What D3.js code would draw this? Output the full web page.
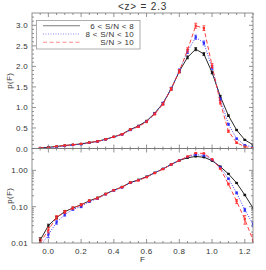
<!DOCTYPE html>
<html>
<head>
<meta charset="utf-8">
<script src="https://cdn.jsdelivr.net/npm/d3@7"></script>
<style>
  body { margin: 0; background: #fff; }
  text { font-family: "Liberation Sans", "DejaVu Sans", sans-serif; fill: #333; letter-spacing: 0.3px; }
</style>
</head>
<body>
<svg id="chart" width="266" height="270"></svg>
<script>
const width = 266;
const height = 270;

// flux bins
const fluxBins = [-0.05, 0.00, 0.05, 0.10, 0.15, 0.20, 0.25, 0.30, 0.35, 0.40, 0.45, 0.50, 0.55,
  0.60, 0.65, 0.70, 0.75, 0.80, 0.85, 0.90, 0.95, 1.00, 1.05, 1.10, 1.15, 1.20, 1.25];

// 6 < S/N < 8
const pLow = [0.012, 0.030, 0.050, 0.073, 0.092, 0.113, 0.145, 0.175, 0.225, 0.285, 0.35, 0.46, 0.55,
  0.67, 0.86, 1.10, 1.45, 1.88, 2.22, 2.42, 2.30, 1.85, 1.27, 0.80, 0.45, 0.21, 0.092];
const errLow = [0.002, 0.003, 0.004, 0.005, 0.005, 0.006, 0.006, 0.007, 0.008, 0.009, 0.010, 0.012, 0.013,
  0.015, 0.018, 0.022, 0.026, 0.030, 0.035, 0.038, 0.036, 0.032, 0.026, 0.020, 0.014, 0.009, 0.006];

// 8 < S/N < 10
const pMid = [0.008, 0.017, 0.037, 0.060, 0.085, 0.100, 0.138, 0.168, 0.22, 0.28, 0.34, 0.45, 0.54,
  0.66, 0.85, 1.10, 1.46, 1.90, 2.36, 2.71, 2.57, 1.97, 1.20, 0.59, 0.24, 0.082, 0.033];
const errMid = [0.002, 0.003, 0.004, 0.005, 0.006, 0.006, 0.007, 0.008, 0.009, 0.010, 0.012, 0.014, 0.015,
  0.018, 0.022, 0.027, 0.032, 0.038, 0.045, 0.050, 0.048, 0.042, 0.032, 0.022, 0.014, 0.008, 0.005];

// S/N > 10
const pHigh = [0.010, 0.023, 0.051, 0.072, 0.092, 0.112, 0.145, 0.172, 0.222, 0.285, 0.345, 0.46, 0.53,
  0.65, 0.84, 1.08, 1.45, 1.88, 2.40, 2.99, 2.93, 2.02, 1.12, 0.42, 0.14, 0.045, 0.012];
const errHigh = [0.003, 0.004, 0.006, 0.007, 0.007, 0.008, 0.009, 0.010, 0.011, 0.012, 0.014, 0.016, 0.018,
  0.021, 0.025, 0.030, 0.036, 0.044, 0.052, 0.060, 0.058, 0.050, 0.038, 0.026, 0.018, 0.012, 0.005];

const seriesNames = ["6 < S/N < 8", "8 < S/N < 10", "S/N > 10"];
const linTicks = [0.0, 0.5, 1.0, 1.5, 2.0, 2.5, 3.0];
const logTicks = [0.01, 0.1, 1];
const xTicks = [0.0, 0.2, 0.4, 0.6, 0.8, 1.0, 1.2];

const series = [
  { name: seriesNames[0], p: pLow, err: errLow, color: "#111", dash: null },
  { name: seriesNames[1], p: pMid, err: errMid, color: "#2b2bff", dash: "1,1.5" },
  { name: seriesNames[2], p: pHigh, err: errHigh, color: "#ff2a2a", dash: "4,2.5" }
];

const left = 32, right = 253;
const top1 = 13, bot1 = 148.5, bot2 = 243;

const x = d3.scaleLinear().domain([-0.1, 1.25]).range([left, right]);
const yLin = d3.scaleLinear().domain([0, 3.3]).range([bot1, top1]);
const yLog = d3.scaleLog().domain([0.01, 4]).range([bot2, bot1]);

const svg = d3.select("#chart");

svg.append("defs").selectAll("clipPath")
  .data([["c1", top1, bot1], ["c2", bot1, bot2]])
  .join("clipPath").attr("id", d => d[0])
  .append("rect").attr("x", left).attr("y", d => d[1])
  .attr("width", right - left).attr("height", d => d[2] - d[1]);

function drawPanel(y, clip) {
  const g = svg.append("g").attr("clip-path", `url(#${clip})`);
  series.forEach(s => {
    const pts = fluxBins.map((f, i) => ({ f, p: s.p[i], e: s.err[i] }));
    const line = d3.line().x(d => x(d.f)).y(d => y(d.p));
    g.append("path").datum(pts)
      .attr("d", line)
      .attr("fill", "none")
      .attr("stroke", s.color)
      .attr("stroke-width", 0.9)
      .attr("stroke-dasharray", s.dash);

    const lo = d => y(Math.max(d.p - d.e, 0.001));
    const hi = d => y(d.p + d.e);
    const eb = g.append("g").attr("stroke", s.color).attr("stroke-width", 0.8);
    eb.selectAll("line.v").data(pts).join("line").attr("class", "v")
      .attr("x1", d => x(d.f)).attr("x2", d => x(d.f))
      .attr("y1", lo).attr("y2", hi);
    eb.selectAll("line.t").data(pts).join("line").attr("class", "t")
      .attr("x1", d => x(d.f) - 1.4).attr("x2", d => x(d.f) + 1.4)
      .attr("y1", hi).attr("y2", hi);
    eb.selectAll("line.b").data(pts).join("line").attr("class", "b")
      .attr("x1", d => x(d.f) - 1.4).attr("x2", d => x(d.f) + 1.4)
      .attr("y1", lo).attr("y2", lo);

    g.append("g").selectAll("rect").data(pts).join("rect")
      .attr("x", d => x(d.f) - 1.1).attr("y", d => y(d.p) - 1.1)
      .attr("width", 2.2).attr("height", 2.2)
      .attr("fill", s.color);
  });
}

drawPanel(yLin, "c1");
drawPanel(yLog, "c2");

// frames and ticks
const frame = svg.append("g").attr("stroke", "#777").attr("fill", "none").attr("stroke-width", 0.8);
frame.append("rect").attr("x", left).attr("y", top1).attr("width", right - left).attr("height", bot1 - top1);
frame.append("rect").attr("x", left).attr("y", bot1).attr("width", right - left).attr("height", bot2 - bot1);

function xTickMarks(yPos, dir) {
  const minor = d3.range(-0.05, 1.251, 0.05);
  minor.forEach(v => {
    const major = Math.abs(v * 5 - Math.round(v * 5)) < 1e-6;
    const len = major ? 4 : 2;
    frame.append("line").attr("x1", x(v)).attr("x2", x(v))
      .attr("y1", yPos).attr("y2", yPos + dir * len);
  });
}
xTickMarks(top1, 1);
xTickMarks(bot1, -1);
xTickMarks(bot1, 1);
xTickMarks(bot2, -1);

function yTickMarks(scale, values, majorTest) {
  values.forEach(v => {
    const len = majorTest(v) ? 4 : 2;
    const yy = scale(v);
    frame.append("line").attr("x1", left).attr("x2", left + len).attr("y1", yy).attr("y2", yy);
    frame.append("line").attr("x1", right).attr("x2", right - len).attr("y1", yy).attr("y2", yy);
  });
}
yTickMarks(yLin, d3.range(0.1, 3.29, 0.1), v => Math.abs(v * 2 - Math.round(v * 2)) < 1e-6);
const logMinor = [];
[0.01, 0.1, 1].forEach(dec => { for (let k = 1; k <= 9; k++) if (dec * k <= 4 && dec * k > 0.01) logMinor.push(dec * k); });
yTickMarks(yLog, logMinor, v => logTicks.some(t => Math.abs(t - v) < 1e-9));

// tick labels
svg.append("g").selectAll("text").data(linTicks).join("text")
  .attr("x", left - 4).attr("y", d => yLin(d) + 3)
  .attr("text-anchor", "end").attr("font-size", 8)
  .text(d => d.toFixed(1));
svg.append("g").selectAll("text").data(logTicks).join("text")
  .attr("x", left - 4).attr("y", d => yLog(d) + 3)
  .attr("text-anchor", "end").attr("font-size", 8)
  .text(d => d.toFixed(2));
svg.append("g").selectAll("text").data(xTicks).join("text")
  .attr("x", d => x(d)).attr("y", bot2 + 11)
  .attr("text-anchor", "middle").attr("font-size", 8)
  .text(d => d.toFixed(1));

// axis titles
svg.append("text").attr("x", (left + right) / 2).attr("y", 262)
  .attr("text-anchor", "middle").attr("font-size", 8).text("F");
[(top1 + bot1) / 2, (bot1 + bot2) / 2].forEach(cy => {
  svg.append("text").attr("transform", `translate(12,${cy}) rotate(-90)`)
    .attr("text-anchor", "middle").attr("font-size", 8).text("p(F)");
});
svg.append("text").attr("x", (left + right) / 2).attr("y", 9.5)
  .attr("text-anchor", "middle").attr("font-size", 10)
  .style("letter-spacing", "0.8px").text("<z> = 2.3");

// legend
const lg = svg.append("g");
lg.append("rect").attr("x", 36.5).attr("y", 20.5).attr("width", 103.5).attr("height", 28.5)
  .attr("fill", "#fff").attr("stroke", "#999").attr("stroke-width", 0.8);
series.forEach((s, i) => {
  const yy = 25.7 + i * 8.3;
  lg.append("line").attr("x1", 43).attr("x2", 80).attr("y1", yy).attr("y2", yy)
    .attr("stroke", s.color).attr("stroke-width", 1.1).attr("stroke-opacity", 0.55)
    .attr("stroke-dasharray", s.dash);
  lg.append("text").attr("x", 134).attr("y", yy + 2.8)
    .attr("text-anchor", "end").attr("font-size", 8).text(s.name);
});
</script>
</body>
</html>
